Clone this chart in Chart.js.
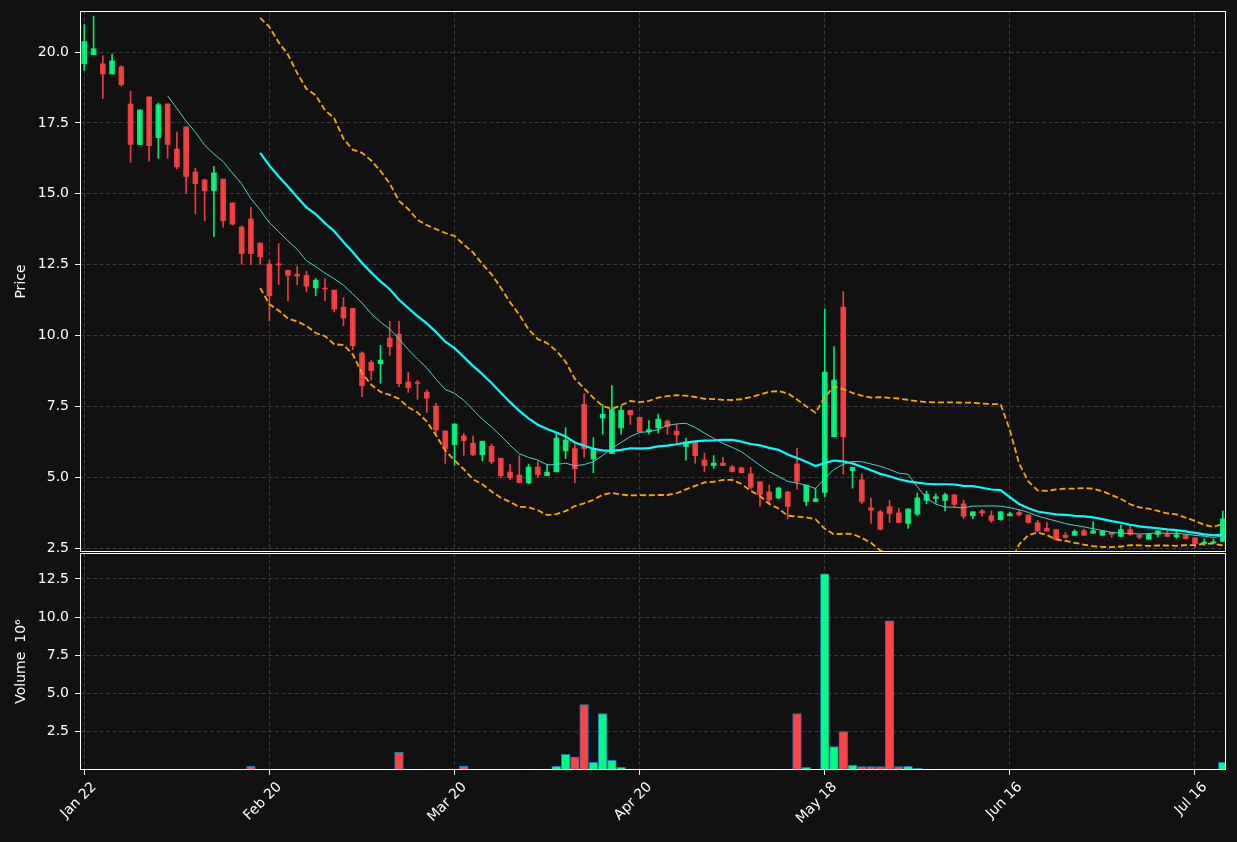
<!DOCTYPE html>
<html lang="en">
<head>
  <meta charset="UTF-8" />
  <title>Price and Volume</title>
  <script src="https://cdn.jsdelivr.net/npm/chart.js"></script>
  <style>
    html, body { margin: 0; padding: 0; background: #111111; }
    .wrap { position: relative; width: 1237px; height: 842px; }
    canvas { position: absolute; left: 0; }
    #priceChart { top: 0; }
    #volChart { top: 553px; }
  </style>
</head>
<body>
  <div class="wrap">
    <canvas id="priceChart" width="1237" height="553"></canvas>
    <canvas id="volChart" width="1237" height="289"></canvas>
  </div>

  <script>
    // x tick positions (candle index) and their labels
    const tickPos = [0, 20, 40, 60, 80, 100, 120];
    const tickLabels = ['Jan 22', 'Feb 20', 'Mar 20', 'Apr 20', 'May 18', 'Jun 16', 'Jul 16'];

    // daily OHLC
    const open = [
      19.59, 19.91, 19.59, 19.23, 19.48, 18.17, 16.74, 18.42, 16.98, 18.17,
      16.58, 17.36, 15.77, 15.49, 15.11, 15.52, 14.68, 13.83, 14.11, 13.26,
      12.52, 12.53, 12.30, 12.16, 12.12, 11.68, 11.66, 11.60, 11.00, 10.96,
      9.38, 9.06, 9.00, 9.91, 10.05, 8.36, 8.33, 8.00, 7.51, 6.63,
      6.15, 6.46, 6.20, 5.79, 6.09, 5.67, 5.18, 5.08, 4.80, 5.36,
      5.05, 5.19, 5.93, 6.01, 7.57, 5.64, 7.09, 5.83, 6.74, 7.36,
      7.11, 6.60, 6.74, 6.98, 6.63, 6.08, 6.24, 5.61, 5.41, 5.50,
      5.36, 5.33, 5.12, 4.84, 4.48, 4.27, 4.48, 5.47, 4.14, 4.14,
      4.46, 6.43, 11.00, 5.23, 4.91, 3.92, 3.78, 3.96, 3.74, 3.37,
      3.69, 4.18, 4.25, 4.18, 4.38, 4.06, 3.64, 3.81, 3.64, 3.50,
      3.64, 3.76, 3.67, 3.39, 3.19, 3.15, 2.95, 2.95, 3.11, 3.02,
      2.95, 3.06, 2.91, 3.15, 2.95, 2.81, 2.98, 2.98, 2.90, 2.97,
      2.86, 2.66, 2.68, 2.73
    ];
    const high = [
      20.97, 21.27, 19.87, 19.93, 19.52, 18.62, 17.96, 18.42, 18.20, 18.17,
      17.18, 17.36, 15.90, 15.52, 15.97, 15.52, 14.68, 13.87, 14.53, 13.26,
      12.66, 13.24, 12.30, 12.44, 12.27, 12.01, 12.01, 11.60, 11.34, 10.96,
      9.42, 9.12, 9.65, 10.50, 10.50, 8.70, 8.42, 8.08, 7.61, 6.63,
      6.88, 6.55, 6.45, 6.27, 6.17, 5.67, 5.45, 5.76, 5.46, 5.57,
      5.46, 6.56, 6.75, 6.15, 7.94, 6.40, 7.56, 8.23, 7.50, 7.36,
      7.11, 7.00, 7.23, 7.02, 6.87, 6.37, 6.24, 5.85, 5.76, 5.70,
      5.42, 5.36, 5.35, 4.84, 4.72, 4.65, 4.50, 6.02, 4.72, 4.62,
      10.94, 9.61, 11.55, 5.35, 5.11, 4.26, 3.84, 4.19, 3.91, 3.88,
      4.44, 4.51, 4.41, 4.44, 4.38, 4.19, 3.78, 3.87, 3.81, 3.78,
      3.77, 3.85, 3.67, 3.47, 3.40, 3.15, 3.05, 3.15, 3.17, 3.42,
      3.11, 3.06, 3.31, 3.30, 2.98, 2.98, 3.11, 3.15, 3.09, 2.97,
      2.86, 2.82, 2.82, 3.81
    ];
    const low = [
      19.35, 19.91, 18.36, 19.23, 18.79, 16.11, 16.74, 16.15, 16.25, 16.25,
      15.89, 15.02, 14.30, 14.05, 13.50, 13.82, 13.90, 12.51, 12.51, 12.51,
      10.51, 11.80, 11.23, 11.80, 11.54, 11.40, 11.23, 10.83, 10.34, 9.50,
      7.84, 8.43, 8.31, 9.30, 8.19, 7.99, 7.75, 7.29, 6.55, 5.49,
      5.42, 5.77, 5.76, 5.58, 5.47, 4.99, 4.90, 4.81, 4.77, 4.99,
      5.05, 5.19, 5.65, 4.81, 5.70, 5.16, 6.52, 5.83, 6.52, 6.86,
      6.58, 6.52, 6.55, 6.51, 6.22, 5.60, 5.49, 5.20, 5.31, 5.41,
      5.18, 5.16, 4.58, 3.97, 4.11, 4.24, 3.52, 4.58, 4.00, 4.14,
      4.30, 6.43, 5.11, 4.61, 4.06, 3.37, 3.15, 3.40, 3.40, 3.19,
      3.64, 4.06, 4.08, 3.81, 3.94, 3.54, 3.54, 3.62, 3.40, 3.48,
      3.62, 3.62, 3.38, 3.08, 3.10, 2.79, 2.84, 2.95, 2.95, 3.02,
      2.95, 2.88, 2.91, 2.95, 2.82, 2.81, 2.89, 2.91, 2.84, 2.83,
      2.51, 2.59, 2.65, 2.73
    ];
    const close = [
      20.37, 20.12, 19.23, 19.69, 18.85, 16.74, 17.96, 16.70, 18.14, 16.74,
      15.95, 15.61, 15.36, 15.11, 15.74, 14.05, 13.93, 12.89, 12.89, 12.78,
      11.40, 12.49, 12.12, 12.10, 11.74, 11.95, 11.64, 10.93, 10.62, 9.64,
      8.23, 8.76, 9.13, 9.60, 8.30, 8.16, 8.31, 7.79, 6.67, 6.01,
      6.88, 6.29, 5.79, 6.27, 5.54, 5.05, 4.98, 4.81, 5.36, 5.09,
      5.18, 6.38, 6.31, 5.30, 6.00, 6.02, 7.22, 7.39, 7.36, 7.20,
      6.60, 6.68, 7.05, 6.78, 6.49, 6.24, 5.76, 5.41, 5.50, 5.41,
      5.20, 5.16, 4.64, 4.39, 4.20, 4.62, 3.97, 4.85, 4.72, 4.24,
      8.71, 8.43, 6.43, 5.35, 4.14, 3.83, 3.16, 3.72, 3.40, 3.88,
      4.27, 4.40, 4.31, 4.38, 4.04, 3.62, 3.78, 3.73, 3.47, 3.78,
      3.71, 3.67, 3.40, 3.10, 3.10, 2.79, 2.88, 3.09, 2.95, 3.11,
      3.11, 2.98, 3.15, 2.98, 2.88, 2.98, 3.11, 2.91, 2.97, 2.83,
      2.66, 2.71, 2.72, 3.53
    ];
    // volume in millions
    const volume = [
      0, 0, 0, 0, 0, 0, 0, 0, 0, 0,
      0, 0, 0, 0, 0, 0, 0, 0, 0.24, 0,
      0, 0, 0, 0, 0, 0, 0, 0, 0, 0,
      0.06, 0, 0, 0.06, 1.15, 0.06, 0.06, 0.06, 0.06, 0.06,
      0.06, 0.24, 0, 0, 0, 0, 0, 0.06, 0, 0,
      0, 0.24, 1.02, 0.85, 4.28, 0.50, 3.70, 0.63, 0.17, 0.06,
      0.06, 0.06, 0.06, 0, 0.06, 0, 0, 0, 0, 0,
      0, 0, 0.06, 0, 0.06, 0, 0, 3.70, 0.17, 0.06,
      12.83, 1.54, 2.52, 0.30, 0.22, 0.22, 0.22, 9.76, 0.22, 0.24,
      0.11, 0.06, 0.06, 0.06, 0, 0, 0, 0, 0, 0,
      0, 0, 0, 0, 0, 0, 0, 0, 0, 0.06,
      0, 0, 0, 0, 0, 0, 0, 0, 0, 0,
      0, 0, 0, 0.50
    ];

    const X_MIN = -0.465, X_MAX = 123.35;
    const GRID = '#3a3a3a';

    Chart.defaults.font.family = 'DejaVu Sans';
    Chart.defaults.font.size = 14;
    Chart.defaults.color = '#ffffff';

    const idx = close.map((_, i) => i);
    const isUp = idx.map(i => close[i] >= open[i]);
    const candleColors = isUp.map(u => u ? 'rgba(0,255,128,0.9)' : 'rgba(255,68,68,0.9)');
    const volColors = isUp.map(u => u ? '#00ff80' : '#ff4444');

    // moving average + bollinger (population std) from the closes
    const rolling = (n) => {
      const mid = [], up = [], lo = [];
      for (let i = n - 1; i < close.length; i++) {
        const win = close.slice(i - n + 1, i + 1);
        const m = win.reduce((a, b) => a + b, 0) / n;
        const sd = Math.sqrt(win.reduce((a, b) => a + (b - m) ** 2, 0) / n);
        mid.push({ x: i, y: m });
        up.push({ x: i, y: m + 2 * sd });
        lo.push({ x: i, y: m - 2 * sd });
      }
      return { mid, up, lo };
    };
    const ma10 = rolling(10);
    const bb20 = rolling(20);

    // white frame round each plot area
    const frame = {
      id: 'frame',
      afterDraw(chart) {
        const { ctx, chartArea: a } = chart;
        ctx.save();
        ctx.strokeStyle = '#ffffff';
        ctx.lineWidth = 1;
        ctx.setLineDash([]);
        const l = Math.round(a.left), t = Math.round(a.top);
        const r = Math.round(a.right), b = Math.round(a.bottom);
        ctx.strokeRect(l + 0.5, t + 0.5, r - l - 1, b - t - 1);
        ctx.restore();
      }
    };

    const xScale = (showTicks) => ({
      type: 'linear',
      min: X_MIN,
      max: X_MAX,
      offset: false,
      afterBuildTicks: s => { s.ticks = tickPos.map(v => ({ value: v })); },
      afterFit: s => { s.height = showTicks ? 72 : 0; s.paddingLeft = 0; s.paddingRight = 0; },
      ticks: {
        display: showTicks,
        autoSkip: false,
        minRotation: 45,
        maxRotation: 45,
        padding: 4,
        labelOffset: 10,
        callback: (v, i) => tickLabels[i]
      },
      grid: {
        offset: false,
        color: GRID,
        lineWidth: 1,
        drawTicks: showTicks,
        tickLength: 5,
        tickColor: '#ffffff',
        tickBorderDash: []
      },
      border: { display: false, dash: [4, 2.5] }
    });

    const yScale = (min, max, ticks, title) => ({
      position: 'left',
      min, max,
      afterBuildTicks: s => { s.ticks = ticks.map(v => ({ value: v })); },
      afterFit: s => { s.width = 80; s.paddingTop = 0; s.paddingBottom = 0; },
      ticks: { padding: 6, callback: v => Number(v).toFixed(1) },
      grid: {
        color: GRID,
        lineWidth: 1,
        tickLength: 5,
        tickColor: '#ffffff',
        tickBorderDash: []
      },
      border: { display: false, dash: [4, 2.5] },
      title: { display: true, text: title, padding: { top: 12.5, bottom: 0 } }
    });

    const commonOpts = {
      responsive: false,
      animation: false,
      devicePixelRatio: 1,
      plugins: { legend: { display: false }, tooltip: { enabled: false } }
    };

    new Chart(document.getElementById('priceChart'), {
      type: 'bar',
      data: {
        datasets: [
          {
            type: 'line', data: ma10.mid, borderColor: '#48d1cc', borderWidth: 1,
            pointRadius: 0, tension: 0, order: 1
          },
          {
            type: 'line', data: bb20.mid, borderColor: '#00ffff', borderWidth: 2.2,
            pointRadius: 0, tension: 0, order: 1
          },
          {
            type: 'line', data: bb20.up, borderColor: '#ffa500', borderWidth: 1.8,
            borderDash: [6, 3], pointRadius: 0, tension: 0, order: 1
          },
          {
            type: 'line', data: bb20.lo, borderColor: '#ffa500', borderWidth: 1.8,
            borderDash: [6, 3], pointRadius: 0, tension: 0, order: 1
          },
          {
            label: 'body',
            data: idx.map(i => ({ x: i, y: [open[i], close[i]] })),
            backgroundColor: candleColors,
            barThickness: 5, minBarLength: 1, grouped: false, order: 2
          },
          {
            label: 'wick',
            data: idx.map(i => ({ x: i, y: [low[i], high[i]] })),
            backgroundColor: candleColors,
            barThickness: 1, grouped: false, order: 3
          }
        ]
      },
      options: {
        ...commonOpts,
        layout: { padding: { left: 0, right: 11, top: 11, bottom: 1 } },
        scales: {
          x: xScale(false),
          y: yScale(2.36, 21.45, [2.5, 5, 7.5, 10, 12.5, 15, 17.5, 20], 'Price')
        }
      },
      plugins: [frame]
    });

    new Chart(document.getElementById('volChart'), {
      type: 'bar',
      data: {
        datasets: [{
          label: 'Volume',
          data: idx.map(i => ({ x: i, y: volume[i] })),
          backgroundColor: volColors,
          borderColor: '#1f77b4',
          borderWidth: 1,
          borderSkipped: false,
          barThickness: 8.7,
          grouped: false
        }]
      },
      options: {
        ...commonOpts,
        layout: { padding: { left: 0, right: 11, top: 0, bottom: 0 } },
        scales: {
          x: xScale(true),
          y: yScale(0, 14.2, [2.5, 5, 7.5, 10, 12.5], 'Volume  10⁶')
        }
      },
      plugins: [frame]
    });
  </script>
</body>
</html>
